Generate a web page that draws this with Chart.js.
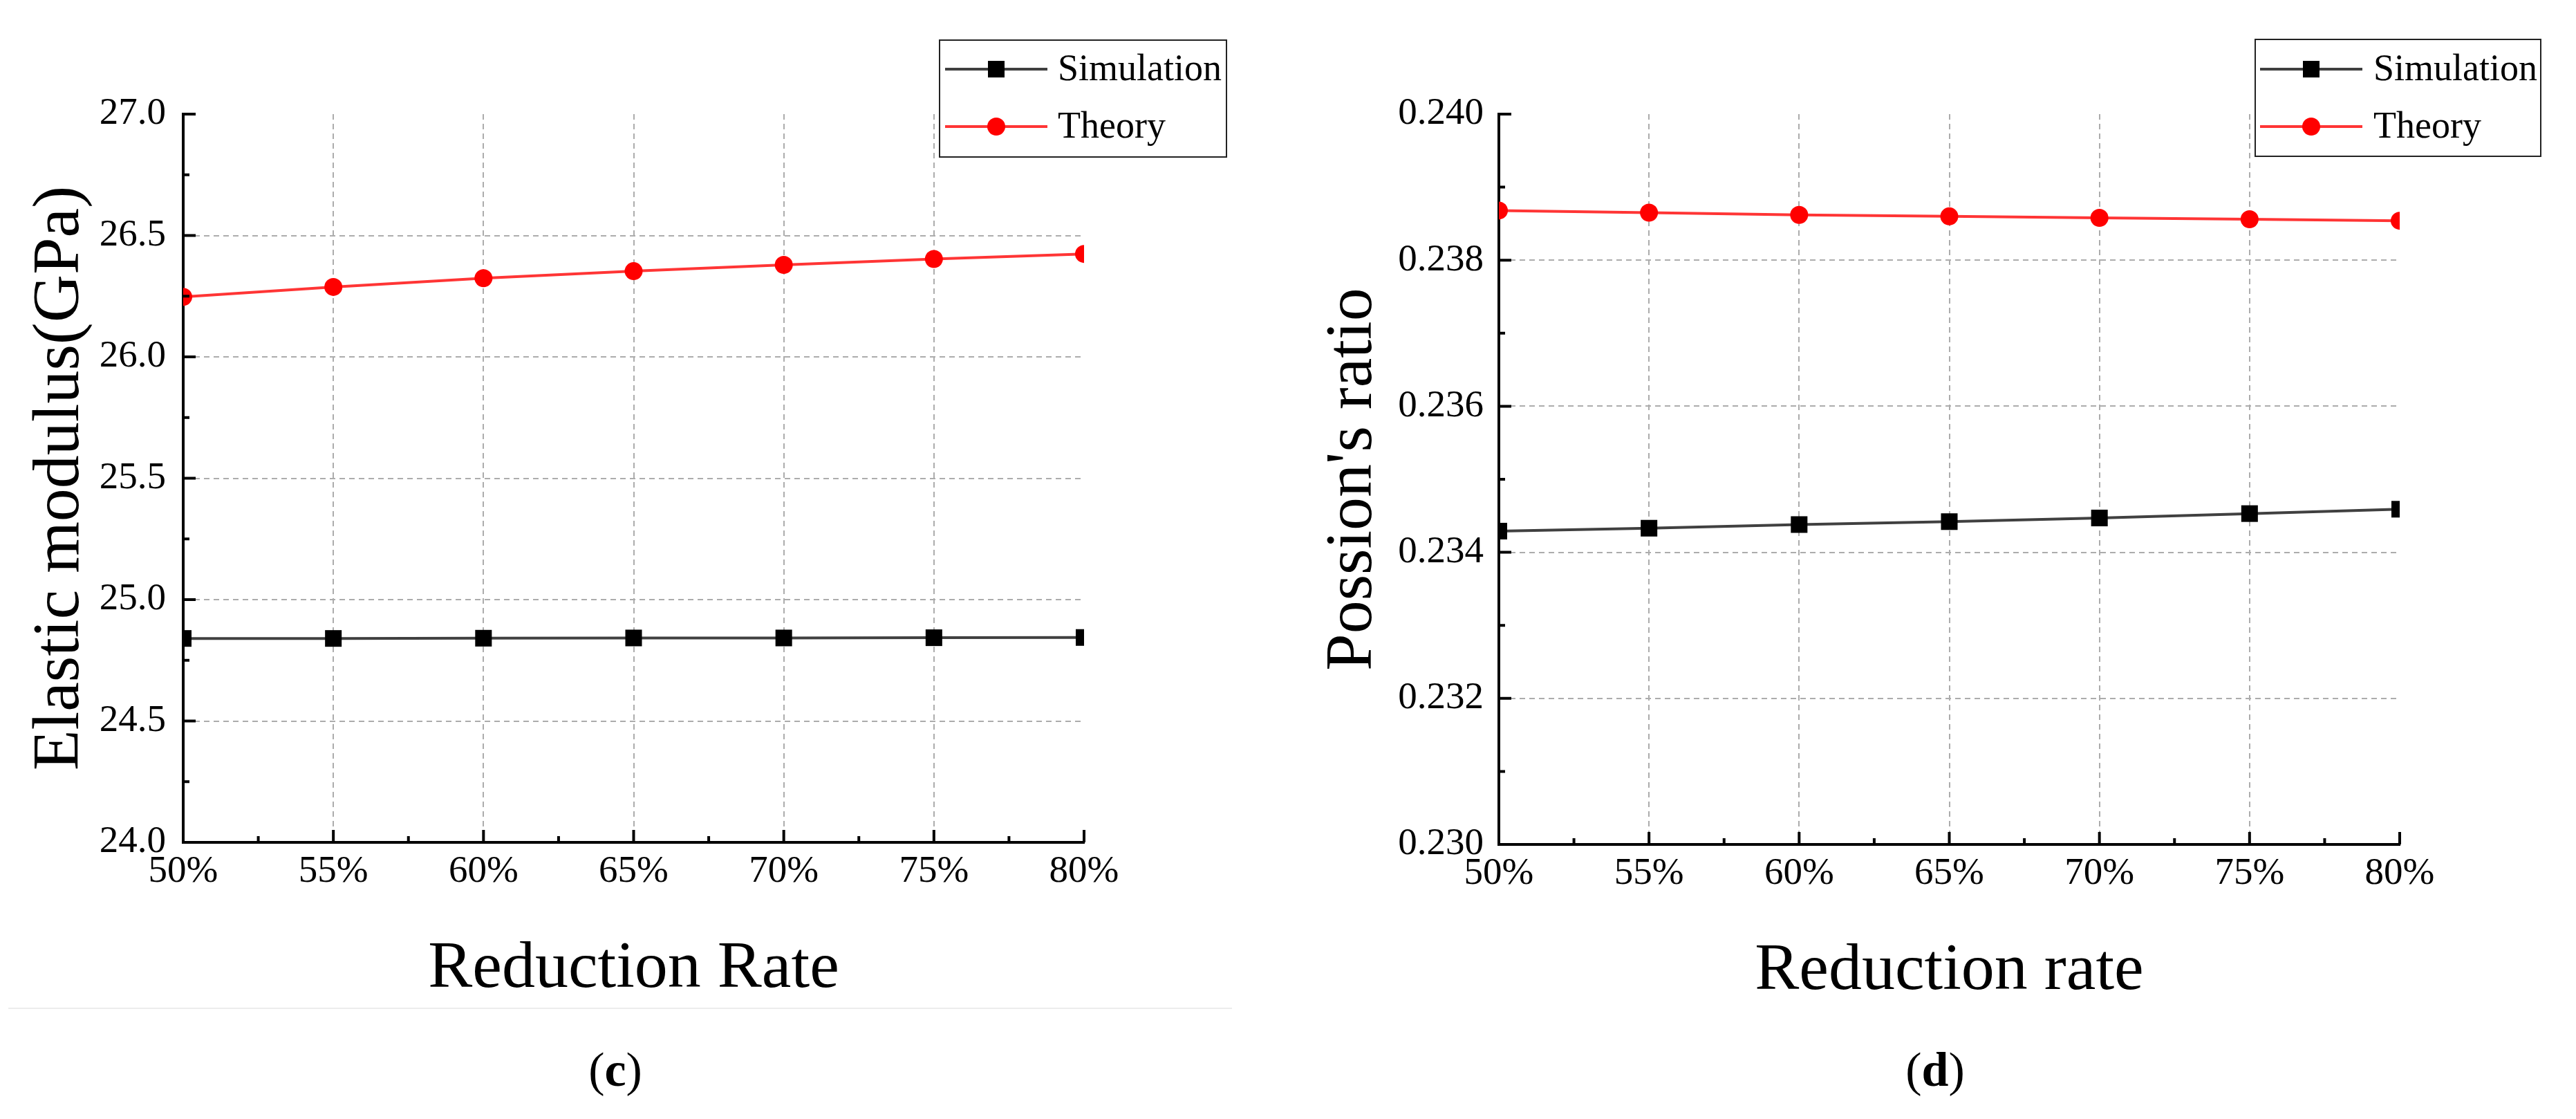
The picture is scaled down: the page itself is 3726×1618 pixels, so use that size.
<!DOCTYPE html>
<html>
<head>
<meta charset="utf-8">
<script src="https://cdn.jsdelivr.net/npm/chart.js@4.4.1/dist/chart.umd.min.js"></script>
<style>
  html, body { margin: 0; padding: 0; background: #fff; }
  #wrap { position: relative; width: 3726px; height: 1618px; overflow: hidden; }
  canvas { position: absolute; top: 0; }
  #c1 { left: 0; }
  #c2 { left: 1863px; }
  .tag { position: absolute; top: 1547px; transform: translate(-50%, -50%);
         font: 70px "Liberation Serif", serif; color: #000; }
  #sep { position: absolute; left: 12px; top: 1457px; width: 1770px; height: 2px; background: #ececec; }
</style>
</head>
<body>
<div id="wrap">
  <canvas id="c1" width="1863" height="1618"></canvas>
  <canvas id="c2" width="1863" height="1618"></canvas>
  <div id="sep"></div>
  <div class="tag" style="left:890px">(<b>c</b>)</div>
  <div class="tag" style="left:2799px">(<b>d</b>)</div>
</div>
<script>
// reduction rate categories
const rateLabels = ["50%", "55%", "60%", "65%", "70%", "75%", "80%"];

// (c) elastic modulus, GPa
const elasticSim = [24.840, 24.840, 24.841, 24.842, 24.842, 24.843, 24.844];
const elasticTheory = [26.247, 26.288, 26.324, 26.353, 26.379, 26.403, 26.424];

// (d) poisson's ratio
const poissonSim = [0.23429, 0.23433, 0.23438, 0.23442, 0.23447, 0.23453, 0.23459];
const poissonTheory = [0.23868, 0.23865, 0.23862, 0.23860, 0.23858, 0.23856, 0.23854];

Chart.defaults.font.family = '"Liberation Serif", serif';
Chart.defaults.color = "#000";

// Origin-style ticks pointing into the plot
const innerTicks = {
  id: "innerTicks",
  afterDatasetsDraw(chart) {
    const { ctx, chartArea: a, scales: { x, y } } = chart;
    ctx.save();
    ctx.strokeStyle = "#000";
    ctx.lineWidth = 4;
    ctx.beginPath();
    x.ticks.forEach((t, i) => {
      const px = x.getPixelForValue(i);
      ctx.moveTo(px, a.bottom);
      ctx.lineTo(px, a.bottom - 18);
      if (i < x.ticks.length - 1) {
        const m = x.getPixelForValue(i + 0.5);
        ctx.moveTo(m, a.bottom);
        ctx.lineTo(m, a.bottom - 9);
      }
    });
    y.ticks.forEach((t, i) => {
      const py = y.getPixelForValue(t.value);
      ctx.moveTo(a.left, py);
      ctx.lineTo(a.left + 18, py);
      if (i < y.ticks.length - 1) {
        const m = y.getPixelForValue((t.value + y.ticks[i + 1].value) / 2);
        ctx.moveTo(a.left, m);
        ctx.lineTo(a.left + 9, m);
      }
    });
    ctx.stroke();
    ctx.restore();
  },
};

// boxed legend with line + marker
const legendBox = {
  id: "legendBox",
  afterDraw(chart, args, o) {
    const { ctx } = chart;
    ctx.save();
    ctx.lineWidth = 2;
    ctx.strokeStyle = "#222";
    ctx.strokeRect(o.x, o.y, o.w, o.h);
    chart.data.datasets.forEach((ds, i) => {
      const y = o.rows[i];
      ctx.strokeStyle = ds.borderColor;
      ctx.lineWidth = ds.borderWidth;
      ctx.beginPath();
      ctx.moveTo(o.x1, y);
      ctx.lineTo(o.x2, y);
      ctx.stroke();
      const mx = (o.x1 + o.x2) / 2;
      ctx.fillStyle = ds.pointBackgroundColor;
      ctx.beginPath();
      if (ds.pointStyle === "rect") {
        const h = ds.pointRadius * Math.SQRT1_2;
        ctx.rect(mx - h, y - h, 2 * h, 2 * h);
      } else {
        ctx.arc(mx, y, ds.pointRadius, 0, Math.PI * 2);
      }
      ctx.fill();
      ctx.fillStyle = "#000";
      ctx.font = '54px "Liberation Serif", serif';
      ctx.textBaseline = "middle";
      ctx.textAlign = "left";
      ctx.fillText(ds.label, o.tx, y + 2);
    });
    ctx.restore();
  },
};

function hideEnds(c) {
  const n = c.scale.ticks.length;
  return c.index === 0 || c.index === n - 1 ? "rgba(0,0,0,0)" : "#acacac";
}

function makeChart(id, sim, theory, yOpts, box) {
  return new Chart(document.getElementById(id), {
    type: "line",
    data: {
      labels: rateLabels,
      datasets: [
        {
          label: "Simulation",
          data: sim,
          borderColor: "#404040",
          borderWidth: 4,
          pointStyle: "rect",
          pointRadius: 17,
          pointBorderWidth: 0,
          pointBackgroundColor: "#000",
          clip: 0,
        },
        {
          label: "Theory",
          data: theory,
          borderColor: "#ff3535",
          borderWidth: 4,
          pointStyle: "circle",
          pointRadius: 13,
          pointBorderWidth: 0,
          pointBackgroundColor: "#ff0000",
          clip: 0,
        },
      ],
    },
    options: {
      responsive: false,
      animation: false,
      layout: { padding: { left: 0, top: 165, right: box.padRight, bottom: box.padBottom } },
      plugins: {
        legend: { display: false },
        tooltip: { enabled: false },
        legendBox: box.legend,
      },
      scales: {
        x: {
          offset: false,
          afterFit: (s) => { s.height = 241; },
          grid: { color: hideEnds, lineWidth: 2, drawTicks: false },
          border: { display: true, color: "#000", width: 4, dash: [8, 6] },
          ticks: { font: { size: 55 }, padding: 10, autoSkip: false, maxRotation: 0 },
          title: { display: true, text: box.xTitle, font: { size: 96 }, padding: { top: 0, bottom: 0 } },
        },
        y: {
          min: yOpts.min,
          max: yOpts.max,
          afterFit: (s) => { s.width = box.yWidth; },
          grid: { color: hideEnds, lineWidth: 2, drawTicks: false },
          border: { display: true, color: "#000", width: 4, dash: [8, 6] },
          ticks: {
            stepSize: yOpts.step,
            font: { size: 55 },
            padding: box.yPad,
            callback: (v) => Number(v).toFixed(yOpts.digits),
          },
          title: { display: true, text: box.yTitle, font: { size: 96 }, padding: { top: box.yTitlePad, bottom: 0 } },
        },
      },
    },
    plugins: [innerTicks, legendBox],
  });
}

makeChart("c1", elasticSim, elasticTheory,
  { min: 24, max: 27, step: 0.5, digits: 1 },
  {
    padRight: 295, padBottom: 159, yWidth: 265, yPad: 25, yTitlePad: 30,
    xTitle: "Reduction Rate", yTitle: "Elastic modulus(GPa)",
    legend: { x: 1359, y: 58, w: 415, h: 169, x1: 1367, x2: 1515, tx: 1530, rows: [100, 183] },
  });

makeChart("c2", poissonSim, poissonTheory,
  { min: 0.23, max: 0.24, step: 0.002, digits: 3 },
  {
    padRight: 255, padBottom: 156, yWidth: 305, yPad: 22, yTitlePad: 37,
    xTitle: "Reduction rate", yTitle: "Possion's ratio",
    legend: { x: 1399, y: 57, w: 413, h: 169, x1: 1406, x2: 1554, tx: 1570, rows: [100, 183] },
  });
</script>
</body>
</html>
